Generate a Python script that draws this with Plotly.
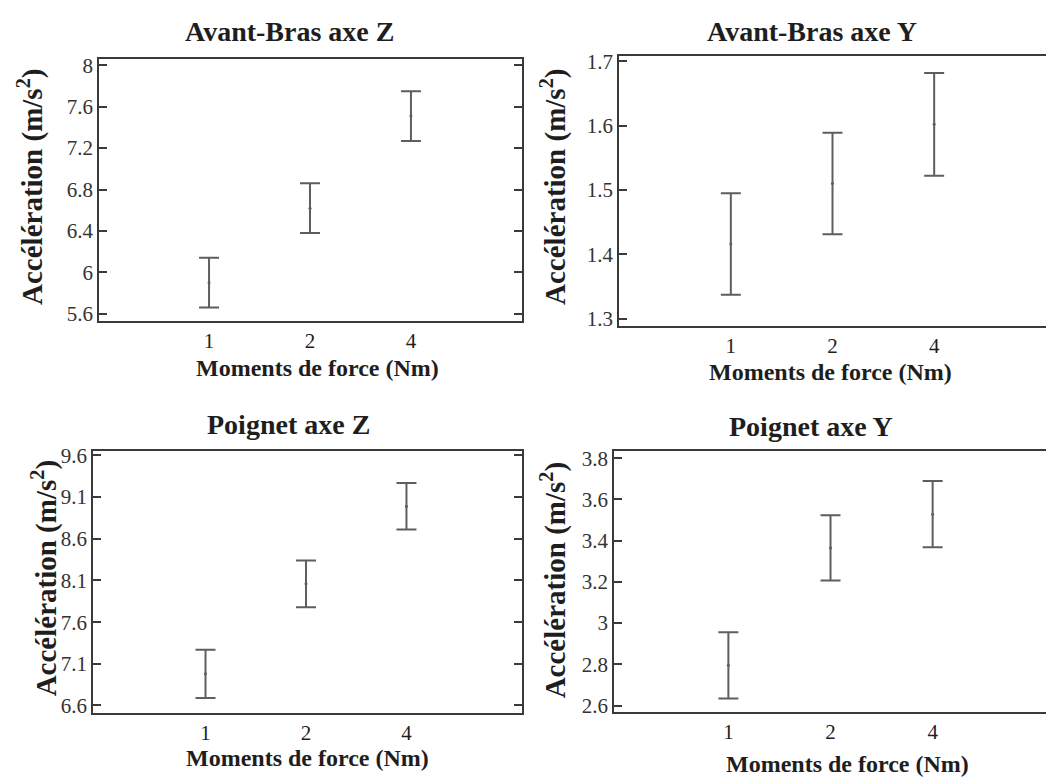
import plotly.graph_objects as go

# ---- data ----
categories = ["1", "2", "4"]

titles = ["Avant-Bras axe Z", "Avant-Bras axe Y", "Poignet axe Z", "Poignet axe Y"]

ab_z_mean = [5.90, 6.62, 7.51]
ab_z_err = [0.24, 0.24, 0.24]
ab_y_mean = [1.416, 1.510, 1.602]
ab_y_err = [0.079, 0.079, 0.080]
po_z_mean = [6.98, 8.06, 8.99]
po_z_err = [0.29, 0.28, 0.28]
po_y_mean = [2.795, 3.365, 3.529]
po_y_err = [0.161, 0.158, 0.161]

ab_z_ticks = [5.6, 6.0, 6.4, 6.8, 7.2, 7.6, 8.0]
ab_z_ticktext = ["5.6", "6", "6.4", "6.8", "7.2", "7.6", "8"]
ab_y_ticks = [1.3, 1.4, 1.5, 1.6, 1.7]
ab_y_ticktext = ["1.3", "1.4", "1.5", "1.6", "1.7"]
po_z_ticks = [6.6, 7.1, 7.6, 8.1, 8.6, 9.1, 9.6]
po_z_ticktext = ["6.6", "7.1", "7.6", "8.1", "8.6", "9.1", "9.6"]
po_y_ticks = [2.6, 2.8, 3.0, 3.2, 3.4, 3.6, 3.8]
po_y_ticktext = ["2.6", "2.8", "3", "3.2", "3.4", "3.6", "3.8"]

x_label = "Moments de force (Nm)"
y_label = "Accélération (m/s<sup>2</sup>)"

# ---- layout helpers ----
W, H = 1046, 783
FONT = "Liberation Serif, Times New Roman, serif"
LINE = "#3a3a3a"
BAR = "#5e5e5e"
TXT = "#1e1e1e"

panels = [
    dict(mean=ab_z_mean, err=ab_z_err, tv=ab_z_ticks, tt=ab_z_ticktext,
         x=(99, 522), y=(53, 319), yr=(5.533, 8.06), xr=(-1.09, 3.1), right=False,
         title_xy=(289, 25), xl_xy=(317, 367), yl_xy=(31, 183)),
    dict(mean=ab_y_mean, err=ab_y_err, tv=ab_y_ticks, tt=ab_y_ticktext,
         x=(619, 1046), y=(50, 324), yr=(1.289, 1.708), xr=(-1.10, 3.10), right=True,
         title_xy=(812, 25), xl_xy=(830, 371), yl_xy=(554, 183)),
    dict(mean=po_z_mean, err=po_z_err, tv=po_z_ticks, tt=po_z_ticktext,
         x=(93, 522), y=(451, 718), yr=(6.509, 9.659), xr=(-1.12, 3.15), right=False,
         title_xy=(288, 425), xl_xy=(307, 764), yl_xy=(44, 581)),
    dict(mean=po_y_mean, err=po_y_err, tv=po_y_ticks, tt=po_y_ticktext,
         x=(614, 1046), y=(452, 717), yr=(2.568, 3.833), xr=(-1.12, 3.11), right=True,
         title_xy=(811, 427), xl_xy=(847, 770), yl_xy=(553, 583)),
]

fig = go.Figure()
annotations = []
for i, p in enumerate(panels):
    n = i + 1
    xa = "x" if n == 1 else f"x{n}"
    ya = "y" if n == 1 else f"y{n}"
    fig.add_trace(go.Scatter(
        x=categories, y=p["mean"], mode="markers",
        marker=dict(size=3, color=BAR),
        error_y=dict(type="data", array=p["err"], visible=True,
                     color=BAR, thickness=2, width=10),
        xaxis=xa, yaxis=ya, showlegend=False,
    ))
    xkey = "xaxis" if n == 1 else f"xaxis{n}"
    ykey = "yaxis" if n == 1 else f"yaxis{n}"
    fig.update_layout(**{
        xkey: dict(
            domain=[p["x"][0] / W, p["x"][1] / W],
            anchor=ya, type="category", range=list(p["xr"]),
            showline=True, linecolor=LINE, linewidth=1.5, mirror=True,
            showgrid=False, zeroline=False, ticks="",
            tickfont=dict(family=FONT, size=21, color=TXT),
        ),
        ykey: dict(
            domain=[1 - p["y"][1] / H, 1 - p["y"][0] / H],
            anchor=xa, range=list(p["yr"]),
            tickvals=p["tv"], ticktext=p["tt"],
            showline=True, linecolor=LINE, linewidth=1.5,
            mirror=False if p["right"] else "allticks",
            ticks="inside", ticklen=8, tickcolor=LINE, tickwidth=1.5,
            showgrid=False, zeroline=False,
            tickfont=dict(family=FONT, size=21, color="#333"),
        ),
    })
    annotations.append(dict(
        text=f"<b>{titles[i]}</b>", x=p["title_xy"][0] / W, y=1 - p["title_xy"][1] / H,
        xref="paper", yref="paper", showarrow=False, xanchor="center", yanchor="middle",
        font=dict(family=FONT, size=28, color=TXT)))
    annotations.append(dict(
        text=f"<b>{x_label}</b>", x=p["xl_xy"][0] / W, y=1 - p["xl_xy"][1] / H,
        xref="paper", yref="paper", showarrow=False, xanchor="center", yanchor="middle",
        font=dict(family=FONT, size=24, color=TXT)))
    annotations.append(dict(
        text=f"<b>{y_label}</b>", x=p["yl_xy"][0] / W, y=1 - p["yl_xy"][1] / H,
        xref="paper", yref="paper", showarrow=False, xanchor="center", yanchor="middle",
        textangle=-90, font=dict(family=FONT, size=29, color=TXT)))

fig.update_layout(
    width=W, height=H,
    margin=dict(l=0, r=0, t=0, b=0),
    paper_bgcolor="white", plot_bgcolor="white",
    annotations=annotations,
)

fig.write_html("out.html")
